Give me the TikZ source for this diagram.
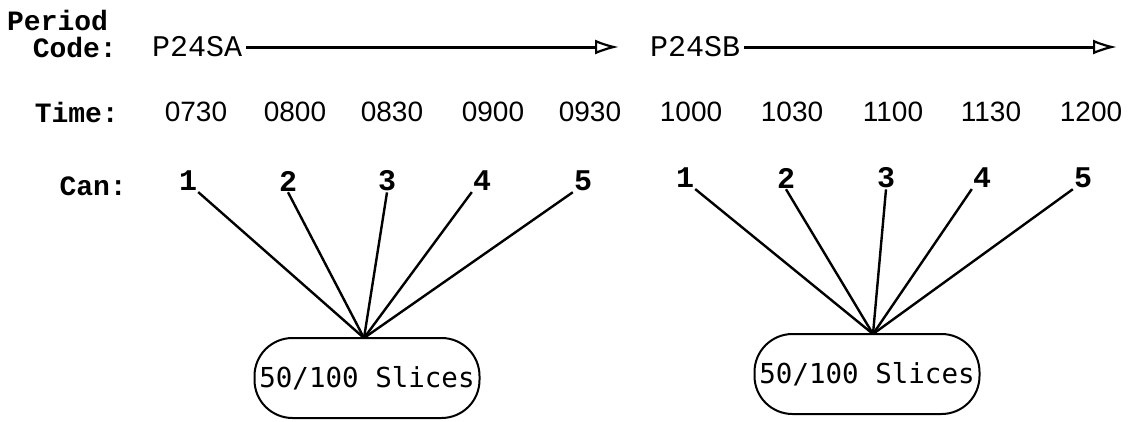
\documentclass[tikz,border=0pt]{standalone}
\usepackage{fontspec}
\setmainfont{Liberation Serif}
\newfontfamily\lblfont{Liberation Mono}
\newfontfamily\numfont{Liberation Sans}
\newfontfamily\boxfont{DejaVu Sans Mono}
\usetikzlibrary{arrows.meta}
\begin{document}
\begin{tikzpicture}[x=1pt,y=-1pt,
  lbl/.style={font=\lblfont\bfseries\fontsize{28}{30}\selectfont, inner sep=0pt},
  codetxt/.style={font=\lblfont\fontsize{30}{32}\selectfont, inner sep=0pt},
  tm/.style={font=\numfont\fontsize{28}{30}\selectfont, inner sep=0pt},
  cannum/.style={font=\lblfont\bfseries\fontsize{30}{32}\selectfont, inner sep=1pt},
  slicebox/.style={draw, line width=2pt, rounded corners=38pt, minimum width=225pt,
    minimum height=80pt, font=\boxfont\fontsize{27.5}{30}\selectfont, inner sep=0pt},
  spoke/.style={line width=2.4pt},
  periodarrow/.style={line width=3pt, -{Latex[open,length=24pt,width=15pt,line width=2.2pt]}}]
\useasboundingbox (0,0) rectangle (1129,421);
% header labels
\node[lbl, anchor=west] (period) at (7,20) {Period};
\node[lbl, anchor=east] (code) at (117,47) {Code:};
\node[lbl, anchor=east] (time) at (119,112) {Time:};
\node[lbl, anchor=east] (can) at (127,186) {Can:};
% period codes
\node[codetxt, anchor=west] (pa) at (152,47) {P24SA};
\node[codetxt, anchor=west] (pb) at (650,47) {P24SB};
\coordinate (ea) at (615,45);
\coordinate (eb) at (1113,45);
\draw[periodarrow] ([xshift=4pt]pa.east) -- ([xshift=4pt]pa.east -| ea);
\draw[periodarrow] ([xshift=4pt]pb.east) -- ([xshift=4pt]pb.east -| eb);
% times
\foreach \t/\x [count=\i] in {0730/196,0800/295,0830/392,0900/493,0930/590,1000/691,1030/792,1100/893,1130/991,1200/1091}
  \node[tm] (t\i) at (\x,112) {\t};
% cans
\foreach \x [count=\i] in {188,288,387,482,583}
  \node[cannum] (ca\i) at (\x,181) {\i};
\foreach \x [count=\i] in {685,786,886,982,1083}
  \node[cannum] (cb\i) at (\x,178) {\i};
% boxes
\node[slicebox] (sa) at (367,378) {50/100 Slices};
\node[slicebox] (sb) at (867,374) {50/100 Slices};
\coordinate (ja) at (364,338);
\coordinate (jb) at (873,334);
% spokes
\draw[spoke] (ca1.south east) -- (ja);
\draw[spoke] (ca2.south) -- (ja);
\draw[spoke] (ca3.south) -- (ja);
\draw[spoke] (ca4.south west) -- (ja);
\draw[spoke] (ca5.south west) -- (ja);
\draw[spoke] (cb1.south east) -- (jb);
\draw[spoke] (cb2.south) -- (jb);
\draw[spoke] (cb3.south) -- (jb);
\draw[spoke] (cb4.south west) -- (jb);
\draw[spoke] (cb5.south west) -- (jb);
\end{tikzpicture}
\end{document}
